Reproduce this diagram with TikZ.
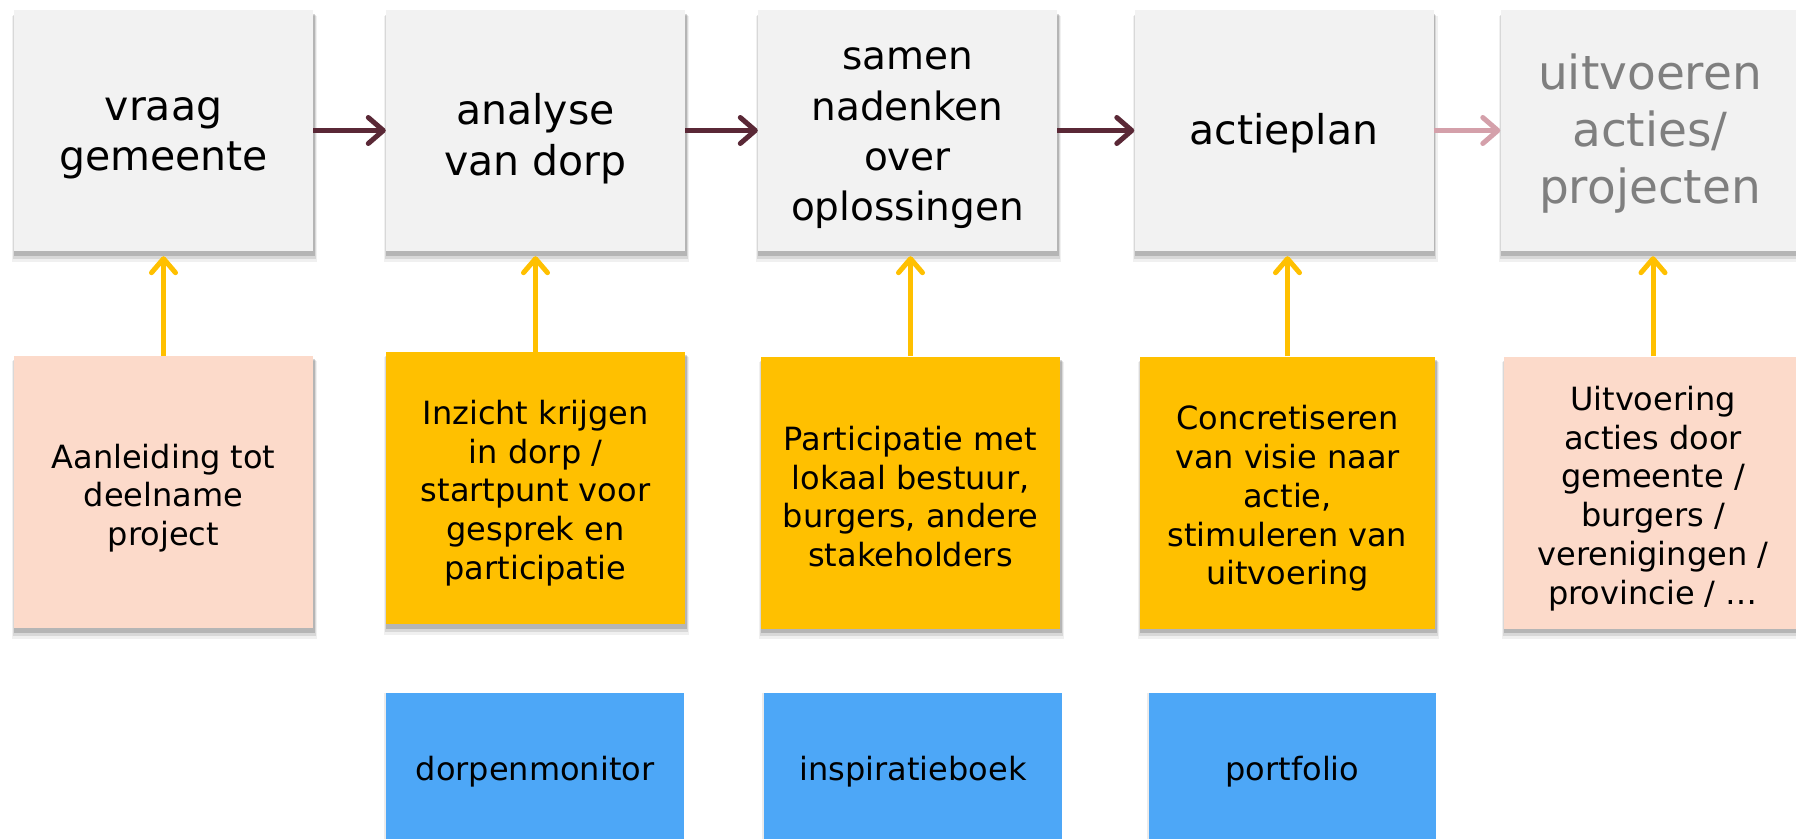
\documentclass[tikz,border=0pt]{standalone}
\usepackage{fontspec}
\setmainfont{DejaVu Sans}
\usetikzlibrary{arrows.meta,shadows}
\definecolor{topfill}{HTML}{F2F2F2}
\definecolor{peach}{HTML}{FCDACA}
\definecolor{gold}{HTML}{FFC000}
\definecolor{skyblue}{HTML}{4DA7F7}
\definecolor{maroon}{HTML}{5A2836}
\definecolor{rosearrow}{HTML}{D4A0AA}
\definecolor{greytext}{HTML}{7F7F7F}
\tikzset{
  boxshadow/.style={
    general shadow={shadow xshift=1pt, shadow yshift=-8pt, shadow scale=1.02, fill=black, opacity=0.06},
    general shadow={shadow xshift=1pt, shadow yshift=-6pt, shadow scale=1.012, fill=black, opacity=0.10},
    general shadow={shadow xshift=1pt, shadow yshift=-4pt, shadow scale=1.004, fill=black, opacity=0.16}},
  topbox/.style={fill=topfill, minimum width=299pt, minimum height=241pt, inner sep=0pt, boxshadow},
  toptext/.style={align=center, inner sep=0pt, font=\fontsize{41}{50.4}\selectfont},
  notebox/.style={minimum width=299pt, minimum height=272pt, inner sep=0pt, boxshadow},
  notetext/.style={align=center, inner sep=0pt, font=\fontsize{32}{38.8}\selectfont},
  peachbox/.style={notebox, fill=peach},
  goldbox/.style={notebox, fill=gold},
  toolbox/.style={fill=skyblue, minimum width=298pt, minimum height=152pt, inner sep=0pt,
    general shadow={shadow xshift=-1pt, shadow yshift=-1pt, shadow scale=1.01, fill=black, opacity=0.08}},
  flow/.style={draw=maroon, line width=5pt, -{Straight Barb[length=15pt,width=26pt,round]}},
  flowlight/.style={flow, draw=rosearrow},
  feed/.style={draw=gold, line width=5pt, -{Straight Barb[length=14pt,width=24pt,round]}, shorten >=5pt}
}
\begin{document}
\begin{tikzpicture}[x=1pt,y=-1pt]
\useasboundingbox (0,0) rectangle (1796,838);
\clip (0,0) rectangle (1796,838);
% top row boxes
\node[topbox] (t1) at (163.5,130.5) {};
\node[topbox] (t2) at (535.5,130.5) {};
\node[topbox] (t3) at (907.5,130.5) {};
\node[topbox] (t4) at (1284,130.5) {};
\node[topbox] (t5) at (1650,130.5) {};
\node[toptext] (t1x) at ([yshift=-8pt]t1.center) {vraag\\gemeente};
\node[toptext] (t2x) at ([yshift=-8pt]t2.center) {analyse\\van dorp};
\node[toptext, font=\fontsize{39}{50.4}\selectfont] (t3x) at ([yshift=-8pt]t3.center) {samen\\nadenken\\over\\oplossingen};
\node[toptext] (t4x) at ([yshift=-3pt]t4.center) {actieplan};
\node[toptext, text=greytext, font=\fontsize{47}{57}\selectfont] (t5x) at ([yshift=-3pt]t5.center) {uitvoeren\\acties/\\projecten};
% second row
\node[peachbox] (a) at (163.5,492) {};
\node[goldbox] (b) at (535.5,488) {};
\node[goldbox] (c) at (910.5,492.5) {};
\node[goldbox, minimum width=295pt] (d) at (1287.5,492.5) {};
\node[peachbox] (e) at (1653,492.5) {};
\node[notetext] (ax) at ([yshift=-6pt]a.center) {Aanleiding tot\\deelname\\project};
\node[notetext] (bx) at ([yshift=-5pt]b.center) {Inzicht krijgen\\in dorp /\\startpunt voor\\gesprek en\\participatie};
\node[notetext] (cx) at ([yshift=-4pt]c.center) {Participatie met\\lokaal bestuur,\\burgers, andere\\stakeholders};
\node[notetext] (dx) at ([yshift=-6pt]d.center) {Concretiseren\\van visie naar\\actie,\\stimuleren van\\uitvoering};
\node[notetext] (ex) at ([yshift=-6pt]e.center) {Uitvoering\\acties door\\gemeente /\\burgers /\\verenigingen /\\provincie / \dots};
% tools
\node[toolbox] (p1) at (535,769) {};
\node[toolbox] (p2) at (913,769) {};
\node[toolbox, minimum width=287pt] (p3) at (1292.5,769) {};
\node[notetext] (p1x) at ([yshift=-3pt]p1.center) {dorpenmonitor};
\node[notetext] (p2x) at ([yshift=-3pt]p2.center) {inspiratieboek};
\node[notetext] (p3x) at ([yshift=-3pt]p3.center) {portfolio};
% flow arrows
\draw[flow] (t1.east) -- (t2.west);
\draw[flow] (t2.east) -- (t3.west);
\draw[flow] (t3.east) -- (t4.west);
\draw[flowlight] (t4.east) -- (t5.west);
% feed arrows
\draw[feed] (a.north) -- (a.north |- t1.south);
\draw[feed] (b.north) -- (b.north |- t2.south);
\draw[feed] (c.north) -- (c.north |- t3.south);
\draw[feed] (d.north) -- (d.north |- t4.south);
\draw[feed] (e.north) -- (e.north |- t5.south);
\end{tikzpicture}
\end{document}
